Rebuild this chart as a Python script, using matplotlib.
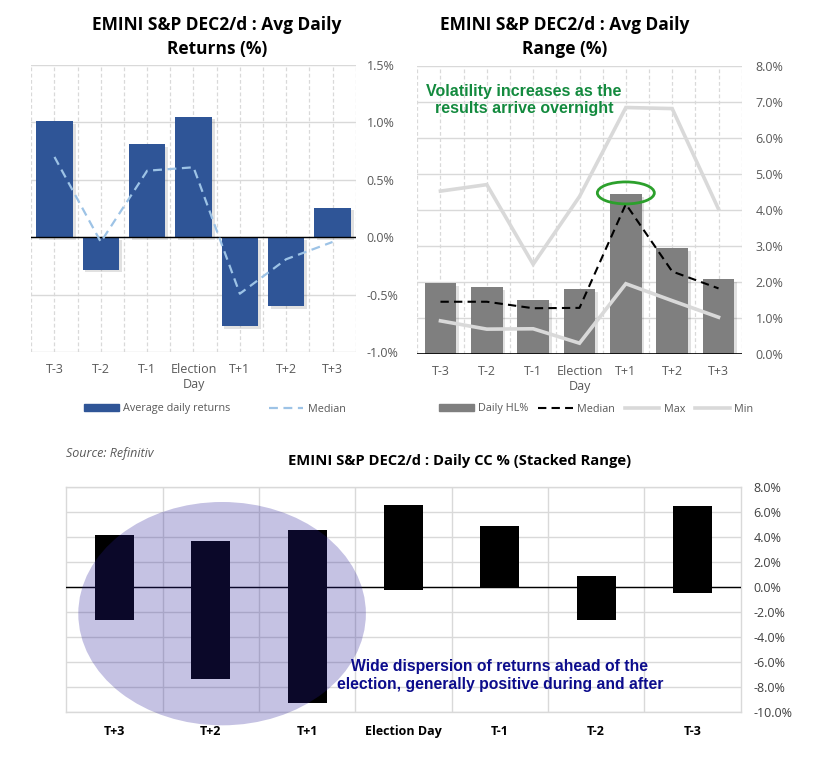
import matplotlib
matplotlib.use("Agg")
import matplotlib.pyplot as plt
from matplotlib.patches import Ellipse, Patch
from matplotlib.lines import Line2D
from matplotlib.ticker import FuncFormatter
import matplotlib.patheffects as pe
import numpy as np

plt.rcParams['font.family'] = ['Open Sans', 'DejaVu Sans']

# ---------------- data ----------------
categories = ["T-3", "T-2", "T-1", "Election\nDay", "T+1", "T+2", "T+3"]
avg_returns = [1.01, -0.28, 0.81, 1.05, -0.77, -0.60, 0.26]
median_returns = [0.70, -0.04, 0.58, 0.61, -0.49, -0.19, -0.04]

hl_range = [1.97, 1.86, 1.50, 1.80, 4.44, 2.94, 2.08]
hl_median = [1.45, 1.45, 1.27, 1.28, 4.16, 2.29, 1.82]
hl_max = [4.52, 4.70, 2.49, 4.37, 6.84, 6.81, 4.02]
hl_min = [0.92, 0.69, 0.70, 0.30, 1.95, 1.48, 1.02]

cc_categories = ["T+3", "T+2", "T+1", "Election Day", "T-1", "T-2", "T-3"]
cc_high = [4.15, 3.67, 4.55, 6.54, 4.87, 0.88, 6.46]
cc_low = [-2.61, -7.32, -9.23, -0.21, 0.00, -2.61, -0.48]

# ---------------- styling ----------------
GRID = "#d9d9d9"
TICK = "#595959"
BLUE = "#2f5597"
LBLUE = "#9dc3e6"
GRAY = "#7f7f7f"
LGRAY = "#d9d9d9"

W, H = 818, 768
fig = plt.figure(figsize=(W / 100, H / 100), dpi=100)


def px_axes(x0, y0, x1, y1):
    return fig.add_axes([x0 / W, 1 - y1 / H, (x1 - x0) / W, (y1 - y0) / H])


pct = FuncFormatter(lambda v, p: f"{v:.1f}%")
shadow = [pe.SimplePatchShadow(offset=(2, -2), alpha=0.14, shadow_rgbFace="#303030"), pe.Normal()]

x = np.arange(len(categories))

# ---------- top-left: average daily returns ----------
ax1 = px_axes(31.3, 65, 355.7, 352.3)
ax1.set_xlim(-0.5, 6.5)
ax1.set_ylim(-1.0, 1.5)
for s in ax1.spines.values():
    s.set_visible(False)
for yv in np.arange(-1.0, 1.51, 0.5):
    ax1.axhline(yv, color=GRID, lw=1, zorder=0)
for xv in np.arange(-0.5, 6.51, 0.5):
    ax1.axvline(xv, color=GRID, lw=0.9, ls=(0, (3, 2)), zorder=0)
bars1 = ax1.bar(x, avg_returns, width=0.79, color=BLUE, zorder=2)
for b in bars1:
    b.set_path_effects(shadow)
ax1.axhline(0, color="black", lw=1, zorder=3)
ax1.plot(x, median_returns, color=LBLUE, lw=1.6, ls=(0, (4, 2.5)), zorder=4)
ax1.yaxis.tick_right()
ax1.yaxis.set_major_formatter(pct)
ax1.set_yticks(np.arange(-1.0, 1.51, 0.5))
ax1.set_xticks(x)
ax1.set_xticklabels(categories)
ax1.tick_params(axis="both", length=0, labelsize=9, labelcolor=TICK)
ax1.tick_params(axis="y", pad=8)
ax1.tick_params(axis="x", pad=8)
fig.text(217 / W, 1 - 25 / H, "EMINI S&P DEC2/d : Avg Daily", ha="center", va="center",
         fontsize=12.5, fontweight="bold")
fig.text(217 / W, 1 - 49 / H, "Returns (%)", ha="center", va="center",
         fontsize=12.5, fontweight="bold")
leg1 = fig.legend(handles=[Patch(color=BLUE, label="Average daily returns"),
                           Line2D([], [], color=LBLUE, lw=1.6, ls=(0, (4, 2.5)), label="Median")],
                  loc="center", bbox_to_anchor=(215 / W, 1 - 409 / H), ncol=2, frameon=False,
                  fontsize=7.8, handlelength=3.2, handleheight=0.6, columnspacing=3.5, handletextpad=0.4)
for t in leg1.get_texts():
    t.set_color(TICK)

# ---------- top-right: average daily range ----------
ax2 = px_axes(417.3, 65.7, 741.7, 354)
ax2.set_xlim(-0.5, 6.5)
ax2.set_ylim(0, 8)
for s in ax2.spines.values():
    s.set_visible(False)
for yv in np.arange(0, 8.01, 1):
    ax2.axhline(yv, color=GRID, lw=1, zorder=0)
for xv in np.arange(-0.5, 6.51, 0.5):
    ax2.axvline(xv, color=GRID, lw=0.9, ls=(0, (3, 2)), zorder=0)
bars2 = ax2.bar(x, hl_range, width=0.68, color=GRAY, zorder=2)
for b in bars2:
    b.set_path_effects(shadow)
ax2.plot(x, hl_max, color=LGRAY, lw=2.6, zorder=3, solid_joinstyle="miter")
ax2.plot(x, hl_min, color=LGRAY, lw=2.6, zorder=3, solid_joinstyle="miter")
ax2.plot(x, hl_median, color="black", lw=1.5, ls=(0, (4, 2.5)), zorder=4)
ax2.axhline(0, color="black", lw=1.2, zorder=5)
ax2.add_patch(Ellipse((4, 4.47), 1.23, 0.61, fill=False, edgecolor="#2ca02c", lw=2, zorder=6))
ax2.text(1.80, 7.05, "Volatility increases as the\nresults arrive overnight",
         ha="center", va="center", color="#138a3e", fontsize=11.5, fontweight="bold",
         family=["Liberation Sans", "DejaVu Sans"], linespacing=1.2, zorder=7)
ax2.yaxis.tick_right()
ax2.yaxis.set_major_formatter(pct)
ax2.set_yticks(np.arange(0, 8.01, 1))
ax2.set_xticks(x)
ax2.set_xticklabels(categories)
ax2.tick_params(axis="both", length=0, labelsize=9, labelcolor=TICK)
ax2.tick_params(axis="y", pad=10)
ax2.tick_params(axis="x", pad=8)
fig.text(565 / W, 1 - 25 / H, "EMINI S&P DEC2/d : Avg Daily", ha="center", va="center",
         fontsize=12.5, fontweight="bold")
fig.text(565 / W, 1 - 49 / H, "Range (%)", ha="center", va="center",
         fontsize=12.5, fontweight="bold")
leg2 = fig.legend(handles=[Patch(color=GRAY, label="Daily HL%"),
                           Line2D([], [], color="black", lw=1.5, ls=(0, (4, 2.5)), label="Median"),
                           Line2D([], [], color=LGRAY, lw=2.6, label="Max"),
                           Line2D([], [], color=LGRAY, lw=2.6, label="Min")],
                  loc="center", bbox_to_anchor=(596 / W, 1 - 409 / H), ncol=4, frameon=False,
                  fontsize=7.8, handlelength=3.2, handleheight=0.6, columnspacing=0.9, handletextpad=0.4)
for t in leg2.get_texts():
    t.set_color(TICK)

# ---------- bottom: daily CC stacked range ----------
ax3 = px_axes(66.3, 486.7, 740.7, 712.3)
xc = np.arange(len(cc_categories))
ax3.set_xlim(-0.5, 6.5)
ax3.set_ylim(-10, 8)
for s in ax3.spines.values():
    s.set_color(GRID)
    s.set_linewidth(1)
for yv in np.arange(-10, 8.01, 2):
    ax3.axhline(yv, color=GRID, lw=1, zorder=0)
for xv in np.arange(0.5, 6.0, 1):
    ax3.axvline(xv, color=GRID, lw=1, zorder=0)
heights = [h - l for h, l in zip(cc_high, cc_low)]
ax3.bar(xc, heights, bottom=cc_low, width=0.405, color="black", zorder=2)
ax3.axhline(0, color="black", lw=1, zorder=3)
ax3.add_patch(Ellipse((1.117, -2.13), 2.985, 17.82, facecolor=(41 / 255, 30 / 255, 153 / 255),
                      alpha=0.27, edgecolor="none", zorder=4, clip_on=False))
ax3.text(4.0, -7.06, "Wide dispersion of returns ahead of the\nelection, generally positive during and after",
         ha="center", va="center", color="#0c0c8c", fontsize=11.3, fontweight="bold",
         family=["Liberation Sans", "DejaVu Sans"], linespacing=1.2, zorder=5)
ax3.yaxis.tick_right()
ax3.yaxis.set_major_formatter(pct)
ax3.set_yticks(np.arange(-10, 8.01, 2))
ax3.set_xticks(xc)
ax3.set_xticklabels(cc_categories, fontweight="bold")
ax3.tick_params(axis="both", length=0, labelsize=9)
ax3.tick_params(axis="y", pad=9, labelcolor="#404040")
ax3.tick_params(axis="x", pad=9, labelcolor="black")
fig.text(460 / W, 1 - 461 / H, "EMINI S&P DEC2/d : Daily CC % (Stacked Range)", ha="center",
         va="center", fontsize=10.6, fontweight="bold")
fig.text(66 / W, 1 - 454 / H, "Source: Refinitiv", ha="left", va="center", fontsize=9,
         style="italic", color="#595959")

fig.savefig("out.png", dpi=100)
